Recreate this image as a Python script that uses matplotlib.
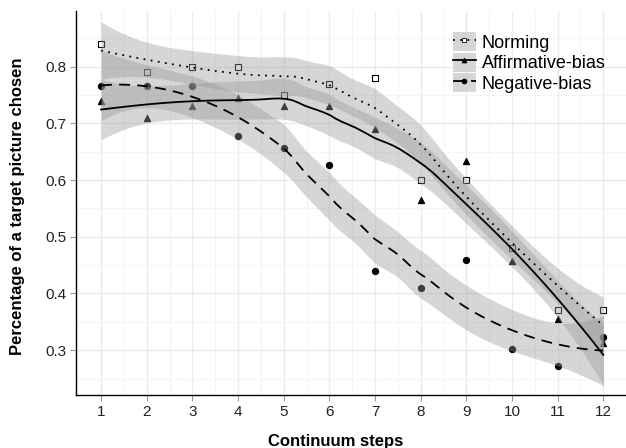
"""Identification curves along the continuum for the three conditions,
with loess smooths and 95% bands (ggplot geom_smooth look)."""

import numpy as np
import matplotlib.pyplot as plt
from matplotlib.lines import Line2D
from matplotlib.patches import Patch

plt.rcParams["font.family"] = ["Liberation Sans", "DejaVu Sans"]

steps = np.arange(1, 13)
norming = [0.84, 0.79, 0.80, 0.80, 0.75, 0.77, 0.78, 0.60, 0.60, 0.48, 0.37, 0.37]
affirmative = [0.74, 0.71, 0.73, 0.745, 0.73, 0.73, 0.69, 0.565, 0.633, 0.458, 0.355, 0.312]
negative = [0.765, 0.765, 0.765, 0.677, 0.657, 0.627, 0.44, 0.41, 0.459, 0.302, 0.273, 0.323]

labels = ["Norming", "Affirmative-bias", "Negative-bias"]
markers = ["s", "^", "o"]
linestyles = [(0, (1, 3)), "-", (0, (6, 4))]
BAND = "#999999"
# the original bands came from trial-level data, so they are narrower than
# what the 12 step means alone give; scale the se to match
SE_SCALE = 0.57


def loess_row(x, x0, span=0.75):
    """One row of the local-quadratic loess smoother matrix at x0."""
    n = len(x)
    q = int(np.floor(n * span))
    d = np.abs(x - x0)
    h = np.sort(d)[q - 1] * 1.0001
    w = (1 - np.clip(d / h, 0, 1) ** 3) ** 3
    X = np.column_stack([np.ones(n), x - x0, (x - x0) ** 2])
    XtW = X.T * w
    return np.linalg.solve(XtW @ X, XtW)[0]


def loess_fit(x, y, grid):
    x = np.asarray(x, float)
    y = np.asarray(y, float)
    L = np.array([loess_row(x, xi) for xi in x])
    res = y - L @ y
    M = np.eye(len(x)) - L
    MtM = M.T @ M
    d1 = np.trace(MtM)
    d2 = np.trace(MtM @ MtM)
    sigma = np.sqrt(np.sum(res ** 2) / d1)
    rows = np.array([loess_row(x, g) for g in grid])
    fit = rows @ y
    se = SE_SCALE * sigma * np.sqrt(np.sum(rows ** 2, axis=1))
    df = d1 ** 2 / d2
    tq = {4: 2.776, 5: 2.571, 6: 2.447, 7: 2.365, 8: 2.306, 9: 2.262, 10: 2.228}
    t = np.interp(df, list(tq.keys()), list(tq.values()))
    return fit, fit - t * se, fit + t * se


fig = plt.figure(figsize=(6.26, 4.48), dpi=100)
ax = fig.add_axes([76 / 626, 53 / 448, 552.4 / 626, 384 / 448])

grid = np.linspace(1, 12, 80)
series = [norming, affirmative, negative]

for y, m in zip(series, markers):
    face = "white" if m == "s" else "black"
    ax.scatter(steps, y, marker=m, s=20, facecolor=face,
               edgecolor="black", linewidth=0.8, zorder=3)

for y, ls in zip(series, linestyles):
    fit, lo, hi = loess_fit(steps, y, grid)
    ax.fill_between(grid, lo, hi, color=BAND, alpha=0.4, linewidth=0, zorder=4)
    ax.plot(grid, fit, color="black", linestyle=ls, linewidth=1.3, zorder=5)

ax.set_xlim(0.45, 12.55)
ax.set_ylim(0.221, 0.898)
ax.set_xticks(steps)
ax.set_xticks(np.arange(1.5, 12.5, 1), minor=True)
ax.set_yticks([0.3, 0.4, 0.5, 0.6, 0.7, 0.8])
ax.set_yticks(np.arange(0.25, 0.9, 0.1), minor=True)
ax.set_yticklabels(["0.3", "0.4", "0.5", "0.6", "0.7", "0.8"])
ax.grid(which="major", color="#ebebeb", linewidth=1.0, zorder=0)
ax.grid(which="minor", color="#f4f4f4", linewidth=0.8, zorder=0)
ax.set_axisbelow(True)
for side in ["top", "right"]:
    ax.spines[side].set_visible(False)
for side in ["left", "bottom"]:
    ax.spines[side].set_color("black")
    ax.spines[side].set_linewidth(1.0)
ax.tick_params(which="major", length=4, color="#999999", labelsize=11,
               labelcolor="#222222", pad=3)
ax.tick_params(which="minor", length=0)

fig.text(336 / 626, 2.5 / 448, "Continuum steps", fontsize=12,
         fontweight="bold", ha="center", va="baseline")
fig.text(18 / 626, 1 - 206 / 448, "Percentage of a target picture chosen",
         fontsize=12, fontweight="bold", rotation=90, ha="center", va="center")

handles = []
for m, ls in zip(markers, linestyles):
    face = "white" if m == "s" else "black"
    line = Line2D([], [], color="black", linestyle=ls, linewidth=1.3,
                  marker=m, markersize=3.5, markerfacecolor=face,
                  markeredgecolor="black", markeredgewidth=0.6)
    handles.append((Patch(facecolor="#d6d6d6", edgecolor="none"), line))
ax.legend(handles, labels, loc="upper left", bbox_to_anchor=(0.682, 0.945),
          frameon=False, fontsize=13, handlelength=1.28, handleheight=1.25,
          handletextpad=0.33, labelspacing=0.05, borderpad=0, borderaxespad=0)

fig.savefig("out.png", dpi=100)
